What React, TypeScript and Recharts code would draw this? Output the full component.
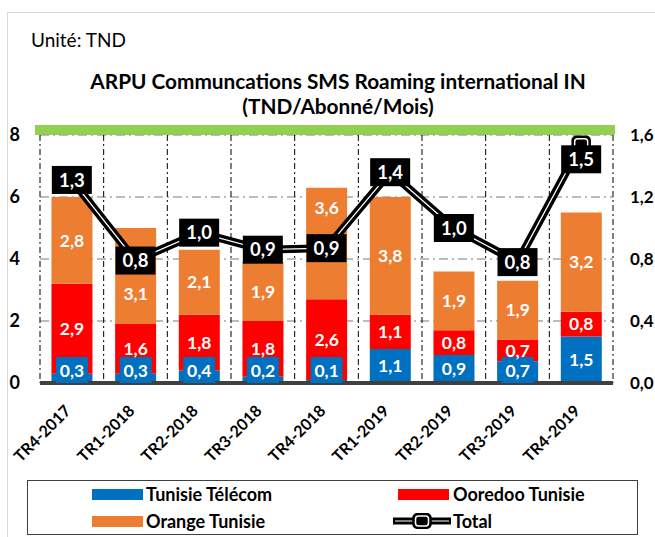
import React from 'react';
import { ComposedChart, Bar, Line, XAxis, YAxis, CartesianGrid, LabelList } from 'recharts';

const categories = ['TR4-2017', 'TR1-2018', 'TR2-2018', 'TR3-2018', 'TR4-2018', 'TR1-2019', 'TR2-2019', 'TR3-2019', 'TR4-2019'];
const tunisieTelecom = [0.3, 0.3, 0.4, 0.2, 0.1, 1.1, 0.9, 0.7, 1.5];
const ooredooTunisie = [2.9, 1.6, 1.8, 1.8, 2.6, 1.1, 0.8, 0.7, 0.8];
const orangeTunisie = [2.8, 3.1, 2.1, 1.9, 3.6, 3.8, 1.9, 1.9, 3.2];
const totalArpu = [1.31, 0.79, 0.97, 0.86, 0.87, 1.36, 1.0, 0.78, 1.54];
const leftTicks = [0, 2, 4, 6, 8];
const rightTicks = [0, 0.4, 0.8, 1.2, 1.6];

const BLUE = '#0070C0';
const RED = '#FF0000';
const ORANGE = '#ED7D31';
const GREEN = '#92D050';
const FONT = 'Lato, "Open Sans", sans-serif';
const PLOT_TOP = 135;
const PLOT_H = 248;
const RIGHT_MAX = 1.6;
const TL_W = 40, TL_H = 28;

const data = categories.map((cat, i) => ({
  cat,
  tt: tunisieTelecom[i],
  oo: ooredooTunisie[i],
  or: orangeTunisie[i],
  total: totalArpu[i],
}));

const fmt = (v: number, d = 1) => Number(v).toFixed(d).replace('.', ',');

// centre of the Total label box for a category (same rule as TotalLabel)
const totalLabelCenter = (i: number) => {
  const y = PLOT_TOP + (1 - totalArpu[i] / RIGHT_MAX) * PLOT_H;
  return y - TL_H / 2 < PLOT_TOP + 8 ? y + 15 : y;
};

const SegLabel = (props: any) => {
  const { x, y, width, height, value, index } = props;
  let cy = y + height / 2;
  const tc = totalLabelCenter(index);
  if (Math.abs(cy - tc) < TL_H / 2 + 12) cy = cy > tc ? tc + 33 : tc - 40;
  return (
    <text x={x + width / 2} y={cy} dy="0.35em" textAnchor="middle" fill="#fff"
      fontFamily={FONT} fontWeight={700} fontSize={17.5}>{fmt(value)}</text>
  );
};

const BlueLabel = (props: any) => {
  const { x, y, width, height, value } = props;
  const bottom = y + height;
  const small = height < 26;
  const cy = small ? bottom - 12 : y + height / 2;
  return (
    <g>
      {small && <rect x={x + width * 0.11} y={bottom - 26} width={width * 0.78} height={26} fill={BLUE} />}
      <text x={x + width / 2} y={cy} dy="0.35em" textAnchor="middle" fill="#fff"
        fontFamily={FONT} fontWeight={700} fontSize={17.5}>{fmt(value)}</text>
    </g>
  );
};

const TotalLabel = (props: any) => {
  const { x, y, value } = props;
  let cy = y;
  if (y - TL_H / 2 < PLOT_TOP + 8) cy = y + 15;
  return (
    <g>
      <rect x={x - TL_W / 2} y={cy - TL_H / 2} width={TL_W} height={TL_H} fill="#000" />
      <text x={x} y={cy} dy="0.36em" textAnchor="middle" fill="#fff"
        fontFamily={FONT} fontWeight={700} fontSize={18.5}>{fmt(value)}</text>
    </g>
  );
};

const Marker = (props: any) => {
  const { cx, cy } = props;
  if (cx == null || cy == null) return null;
  return (
    <g>
      <rect x={cx - 9} y={cy - 8} width={18} height={16} rx={4} fill="#000" stroke="#000" strokeWidth={1.5} />
      <rect x={cx - 6.5} y={cy - 5.5} width={13} height={11} rx={3} fill="#000" stroke="#fff" strokeWidth={1.5} />
    </g>
  );
};

const XTick = (props: any) => {
  const { x, y, payload } = props;
  return (
    <g transform={`translate(${x - 4},${y + 25})`}>
      <text transform="rotate(-45)" x={0} y={0} dy="0.35em" textAnchor="end" fill="#000"
        fontFamily={FONT} fontWeight={700} fontSize={16}>{payload.value}</text>
    </g>
  );
};

const legendItems = [
  { name: 'Tunisie Télécom', color: BLUE, type: 'bar' },
  { name: 'Ooredoo Tunisie', color: RED, type: 'bar' },
  { name: 'Orange Tunisie', color: ORANGE, type: 'bar' },
  { name: 'Total', color: '#000', type: 'line' },
];

const LegendIcon = ({ item }: any) => {
  if (item.type === 'bar') {
    return <div style={{ width: 51, height: 11, background: item.color }} />;
  }
  return (
    <svg width={58} height={16} style={{ display: 'block' }}>
      <line x1={1} y1={8} x2={57} y2={8} stroke="#000" strokeWidth={7} strokeLinecap="round" />
      <line x1={2} y1={8} x2={56} y2={8} stroke="#fff" strokeWidth={1.2} />
      <rect x={20} y={0.75} width={18} height={14.5} rx={4} fill="#000" stroke="#000" strokeWidth={1.5} />
      <rect x={22.5} y={3} width={13} height={10} rx={3} fill="#000" stroke="#fff" strokeWidth={1.5} />
    </svg>
  );
};

export default function App() {
  return (
    <div style={{ position: 'absolute', left: 0, top: 0, width: 655, height: 537, overflow: 'hidden', background: '#fff', fontFamily: FONT }}>
      <div style={{ position: 'absolute', left: 7, top: 12, width: 700, height: 600, border: '1.5px solid #D9D9D9', boxSizing: 'border-box' }} />
      <div style={{ position: 'absolute', left: 31, top: 28, fontSize: 19, color: '#000', lineHeight: '24px' }}>Unité: TND</div>
      <div style={{ position: 'absolute', left: 0, width: 676, top: 68, textAlign: 'center', fontSize: 20.8, fontWeight: 700, lineHeight: '25px', color: '#000' }}>
        ARPU Communcations SMS Roaming international IN<br />(TND/Abonné/Mois)
      </div>
      <div style={{ position: 'absolute', left: 35, top: 125, width: 580, height: 10, background: GREEN }} />
      <div style={{ position: 'absolute', left: 0, top: 0 }}>
        <ComposedChart width={655} height={480} data={data} margin={{ top: PLOT_TOP, right: 0, bottom: 0, left: 0 }} barCategoryGap="18%">
          <CartesianGrid yAxisId="left" vertical={false} stroke="#A6A6A6" strokeWidth={1.5} strokeDasharray="9 4 2 4" />
          <CartesianGrid yAxisId="left" horizontal={false} stroke="#000" strokeWidth={1} strokeDasharray="6 3 2 3"
            verticalCoordinatesGenerator={({ offset }: any) =>
              Array.from({ length: categories.length + 1 }, (_, i) => offset.left + (i * offset.width) / categories.length)} />
          <XAxis dataKey="cat" height={97} interval={0} tickLine={false} tickSize={0} tickMargin={0}
            axisLine={{ stroke: '#404040', strokeWidth: 4 }} tick={<XTick />} />
          <YAxis yAxisId="left" orientation="left" width={40} domain={[0, 8]} ticks={leftTicks} axisLine={false}
            tickLine={false} tickSize={0} tickMargin={20}
            tick={{ fill: '#000', fontFamily: FONT, fontWeight: 700, fontSize: 18 }} />
          <YAxis yAxisId="right" orientation="right" width={42} domain={[0, RIGHT_MAX]} ticks={rightTicks} axisLine={false}
            tickLine={false} tickSize={0} tickMargin={17} tickFormatter={(v: number) => fmt(v)}
            tick={{ fill: '#000', fontFamily: FONT, fontWeight: 700, fontSize: 17, textAnchor: 'start' }} />
          <Bar yAxisId="left" dataKey="tt" stackId="a" fill={BLUE} isAnimationActive={false}>
            <LabelList dataKey="tt" content={<BlueLabel />} />
          </Bar>
          <Bar yAxisId="left" dataKey="oo" stackId="a" fill={RED} isAnimationActive={false}>
            <LabelList dataKey="oo" content={<SegLabel />} />
          </Bar>
          <Bar yAxisId="left" dataKey="or" stackId="a" fill={ORANGE} isAnimationActive={false}>
            <LabelList dataKey="or" content={<SegLabel />} />
          </Bar>
          <Line yAxisId="right" dataKey="total" stroke="#000" strokeWidth={8} dot={false} activeDot={false}
            isAnimationActive={false} legendType="none" />
          <Line yAxisId="right" dataKey="total" stroke="#fff" strokeWidth={1.3} dot={<Marker />} activeDot={false}
            isAnimationActive={false}>
            <LabelList dataKey="total" content={<TotalLabel />} />
          </Line>
        </ComposedChart>
      </div>
      <div style={{ position: 'absolute', left: 27, top: 480, width: 611, height: 55, border: '1.5px solid #404040', boxSizing: 'border-box' }}>
        {legendItems.map((item, i) => {
          const col = i % 2;
          const row = Math.floor(i / 2);
          const iconLeft = col === 0 ? 64 : (item.type === 'line' ? 365 : 370);
          const textLeft = col === 0 ? 118 : 425;
          const cy = row === 0 ? 13 : 40;
          return (
            <React.Fragment key={item.name}>
              <div style={{ position: 'absolute', left: iconLeft, top: cy - (item.type === 'line' ? 8 : 5.5) }}>
                <LegendIcon item={item} />
              </div>
              <div style={{ position: 'absolute', left: textLeft, top: cy - 12, lineHeight: '24px', fontSize: 18, fontWeight: 700, color: '#000' }}>{item.name}</div>
            </React.Fragment>
          );
        })}
      </div>
    </div>
  );
}
